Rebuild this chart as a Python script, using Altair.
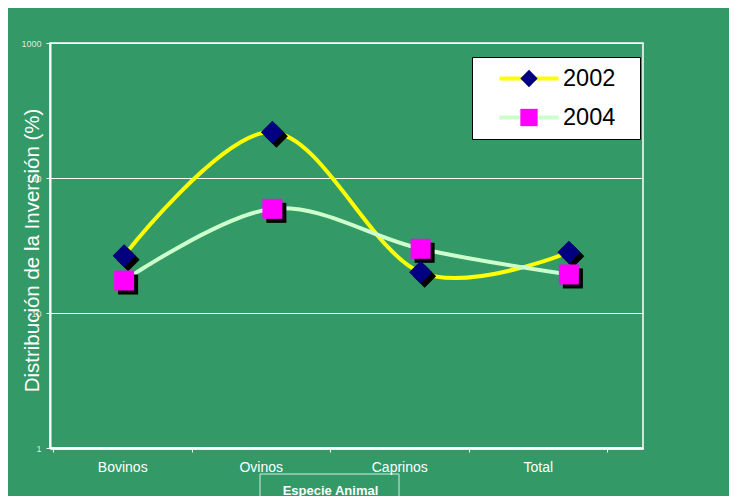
import altair as alt
import pandas as pd

categorias = ["Bovinos", "Ovinos", "Caprinos", "Total"]
anios = ["2002", "2004"]
valores_2002 = [26.6, 218.6, 20.0, 28.2]
valores_2004 = [17.4, 59.1, 29.9, 19.3]
y_ticks = [1, 10, 100, 1000]

rows = []
for c, v in zip(categorias, valores_2002):
    rows.append({"especie": c, "anio": "2002", "serie": "2002", "valor": v})
for c, v in zip(categorias, valores_2004):
    rows.append({"especie": c, "anio": "2004", "serie": "2004", "valor": v})
df = pd.DataFrame(rows)

FONT = "Liberation Sans, Arial, sans-serif"
GREEN = "#339966"

x_main = alt.X(
    "especie:N", sort=categorias,
    scale=alt.Scale(type="point", padding=0.5),
    axis=alt.Axis(orient="bottom", labels=False, ticks=False, title=None,
                  domainColor="white", domainWidth=2, grid=False),
)
y_main = alt.Y(
    "valor:Q",
    scale=alt.Scale(type="log", domain=[1, 1000]),
    axis=alt.Axis(values=y_ticks, format="d", grid=True, gridColor="white",
                  gridWidth=1, domainColor="white", domainWidth=2,
                  tickColor="white", tickSize=4, labelColor="#dde8dd",
                  labelFontSize=9, labelFont=FONT, labelPadding=5,
                  title="Distribución de la Inversión (%)", titleColor="white",
                  titleFontSize=20.5, titleFont=FONT, titleFontWeight="normal",
                  titleAngle=270, titleX=-18, titleY=207,
                  titleBaseline="middle", titleAlign="center"),
)

base = alt.Chart(df)

lines = base.mark_line(strokeWidth=4, interpolate="cardinal").encode(
    x=x_main, y=y_main,
    color=alt.Color("serie:N",
                    scale=alt.Scale(range=["#ffff00", "#ccffcc"]),
                    legend=alt.Legend(orient="none", legendX=422, legendY=14,
                                      title="0", titleOrient="right",
                                      titleFontSize=10, titleOpacity=0,
                                      titlePadding=16,
                                      padding=3,
                                      fillColor="white", strokeColor="black",
                                      symbolType="M-3,0H3",
                                      symbolSize=387,
                                      symbolStrokeWidth=4, symbolOffset=42,
                                      labelOffset=22, labelFontSize=23.5,
                                      labelColor="black", labelFont=FONT,
                                      clipHeight=37, rowPadding=2)),
)

shape_enc = alt.Shape("anio:N",
                      scale=alt.Scale(domain=anios, range=["diamond", "square"]))
size_enc = alt.Size("anio:N", scale=alt.Scale(range=[530, 400]), legend=None)

shadows = base.mark_point(filled=True, color="black", opacity=1,
                          xOffset=4, yOffset=4, strokeWidth=0).encode(
    x=x_main, y=y_main, shape=shape_enc, size=size_enc,
)

markers = base.mark_point(filled=True, opacity=1, strokeWidth=0).encode(
    x=x_main, y=y_main, shape=shape_enc, size=size_enc,
    fill=alt.Fill("anio:N",
                  scale=alt.Scale(domain=anios, range=["#000080", "#ff00ff"]),
                  legend=alt.Legend(orient="none", legendX=422, legendY=14,
                                    title=None, padding=3, symbolSize=300,
                                    symbolStrokeWidth=0, symbolOffset=43,
                                    labelOffset=0, labelFontSize=22,
                                    labelOpacity=0, labelExpr="''",
                                    clipHeight=37, rowPadding=2)),
)

label_layer = base.mark_point(opacity=0).encode(
    x=alt.X("especie:N", sort=categorias,
            scale=alt.Scale(type="band", range=[3, 557], paddingInner=0,
                            paddingOuter=0),
            axis=alt.Axis(orient="bottom", domain=False, ticks=True,
                          tickBand="extent", tickColor="white", tickSize=4,
                          labelColor="white", labelFontSize=14, labelFont=FONT,
                          labelPadding=8, labelAngle=0,
                          title="Especie Animal", titleColor="white",
                          titleFontSize=13, titleFont=FONT,
                          titleFontWeight="bold", titleY=42,
                          titleBaseline="middle")),
)

box = alt.Chart(alt.Data(values=[{"k": 1}])).mark_rect(
    fillOpacity=0, stroke="white", strokeWidth=1, strokeOpacity=0.8
).encode(
    x=alt.value(210), x2=alt.value(349), y=alt.value(31 + 400), y2=alt.value(460)
)

chart = alt.layer(box, lines, shadows, markers, label_layer).resolve_scale(
    x="independent"
).properties(
    width=593, height=405,
    autosize=alt.AutoSizeParams(type="none"),
    padding={"left": 42, "top": 35, "right": 86, "bottom": 48},
    background=GREEN,
).configure_view(stroke="white", strokeWidth=1.5)

chart.save("out.html", embed_options={"renderer": "svg", "actions": False})
